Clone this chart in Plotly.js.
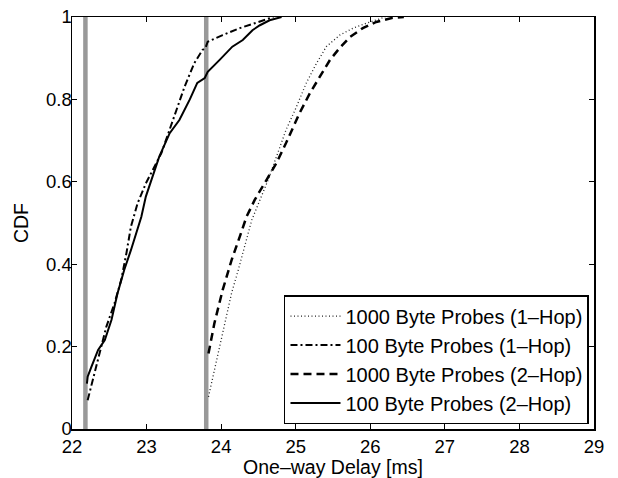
<!DOCTYPE html>
<html><head><meta charset="utf-8">
<script src="https://cdn.plot.ly/plotly-3.0.1.min.js"></script>
<style>html,body{margin:0;padding:0;background:#fff}#chart{width:618px;height:478px}</style>
</head><body><div id="chart"></div>
<script>
// Reference vertical markers
const markerX = [22.18, 23.8];

// 1000 Byte Probes (1-Hop)
const b1000h1X = [23.83, 23.89, 23.96, 24.05, 24.14, 24.23, 24.32, 24.41, 24.52, 24.62, 24.74, 24.87, 25.01, 25.14, 25.28, 25.41, 25.59, 25.77, 25.95, 26.08, 26.2];
const b1000h1Y = [0.078, 0.127, 0.183, 0.257, 0.33, 0.386, 0.45, 0.507, 0.556, 0.60, 0.66, 0.726, 0.782, 0.839, 0.888, 0.928, 0.956, 0.973, 0.985, 0.993, 1.0];

// 100 Byte Probes (1-Hop)
const b100h1X = [22.21, 22.28, 22.35, 22.46, 22.57, 22.66, 22.73, 22.79, 22.88, 22.99, 23.2, 23.35, 23.51, 23.64, 23.75, 23.79, 23.82, 24.02, 24.25, 24.47, 24.7];
const b100h1Y = [0.07, 0.119, 0.167, 0.248, 0.305, 0.362, 0.427, 0.491, 0.548, 0.596, 0.67, 0.75, 0.831, 0.888, 0.92, 0.925, 0.94, 0.956, 0.973, 0.986, 1.0];

// 1000 Byte Probes (2-Hop)
const b1000h2X = [23.83, 23.91, 24.02, 24.14, 24.25, 24.34, 24.45, 24.59, 24.74, 24.87, 25.05, 25.19, 25.32, 25.46, 25.59, 25.73, 25.9, 26.08, 26.3, 26.45];
const b1000h2Y = [0.183, 0.257, 0.337, 0.41, 0.467, 0.515, 0.556, 0.60, 0.645, 0.694, 0.766, 0.815, 0.855, 0.896, 0.925, 0.952, 0.973, 0.988, 0.998, 1.0];

// 100 Byte Probes (2-Hop)
const b100h2X = [22.2, 22.21, 22.26, 22.35, 22.44, 22.53, 22.61, 22.70, 22.79, 22.93, 22.99, 23.04, 23.17, 23.31, 23.44, 23.58, 23.68, 23.78, 23.82, 23.98, 24.15, 24.29, 24.42, 24.52, 24.65, 24.81];
const b100h2Y = [0.11, 0.127, 0.151, 0.192, 0.216, 0.265, 0.329, 0.386, 0.434, 0.515, 0.564, 0.59, 0.661, 0.718, 0.75, 0.80, 0.84, 0.852, 0.867, 0.896, 0.928, 0.944, 0.968, 0.98, 0.992, 1.0];

const seriesNames = ["1000 Byte Probes (1–Hop)", "100 Byte Probes (1–Hop)", "1000 Byte Probes (2–Hop)", "100 Byte Probes (2–Hop)"];
const xTicks = [22, 23, 24, 25, 26, 27, 28, 29];
const yTicks = [0, 0.2, 0.4, 0.6, 0.8, 1];
const yTickText = ["0", "0.2", "0.4", "0.6", "0.8", "1"];

const traces = [];
markerX.forEach(v => traces.push({
  x: [v, v], y: [0, 1], mode: 'lines', showlegend: false, hoverinfo: 'skip',
  line: {color: '#999999', width: 4.5}
}));
traces.push({x: b1000h1X, y: b1000h1Y, name: seriesNames[0], mode: 'lines',
  line: {color: '#222', width: 1.3, dash: '1px,2.5px'}});
traces.push({x: b100h1X, y: b100h1Y, name: seriesNames[1], mode: 'lines',
  line: {color: '#000', width: 2, dash: '7px,3px,2px,3px'}});
traces.push({x: b1000h2X, y: b1000h2Y, name: seriesNames[2], mode: 'lines',
  line: {color: '#000', width: 2.5, dash: '8px,5px'}});
traces.push({x: b100h2X, y: b100h2Y, name: seriesNames[3], mode: 'lines',
  line: {color: '#000', width: 2}});

const fontFam = 'Liberation Sans, Arial, sans-serif';
const layout = {
  width: 618, height: 478,
  margin: {l: 72, r: 24, t: 17, b: 49, pad: 0},
  paper_bgcolor: '#fff', plot_bgcolor: '#fff',
  font: {family: fontFam, size: 18, color: '#000'},
  showlegend: true,
  legend: {
    x: 0.9904, y: 0.012, xanchor: 'right', yanchor: 'bottom',
    bgcolor: '#fff', bordercolor: '#000', borderwidth: 1.5,
    font: {family: fontFam, size: 20, color: '#000'},
    tracegroupgap: 0, itemwidth: 50
  },
  xaxis: {
    range: [22, 29], tickvals: xTicks, ticktext: xTicks.map(String),
    ticks: 'inside', ticklen: 5, tickwidth: 1, tickcolor: '#000',
    showline: true, linecolor: '#000', linewidth: 1.5, mirror: 'allticks',
    showgrid: false, zeroline: false,
    tickfont: {family: fontFam, size: 18.5, color: '#000'},
    title: {text: 'One–way Delay [ms]', font: {family: fontFam, size: 19.5, color: '#000'}, standoff: 3}
  },
  yaxis: {
    range: [0, 1], tickvals: yTicks, ticktext: yTickText,
    ticks: 'inside', ticklen: 5, tickwidth: 1, tickcolor: '#000',
    showline: true, linecolor: '#000', linewidth: 1.5, mirror: 'allticks',
    showgrid: false, zeroline: false, ticklabelstandoff: -5,
    tickfont: {family: fontFam, size: 18.5, color: '#000'},
    title: {text: 'CDF', font: {family: fontFam, size: 19.5, color: '#000'}, standoff: 12}
  }
};
Plotly.newPlot('chart', traces, layout, {displayModeBar: false, staticPlot: true});
</script></body></html>
